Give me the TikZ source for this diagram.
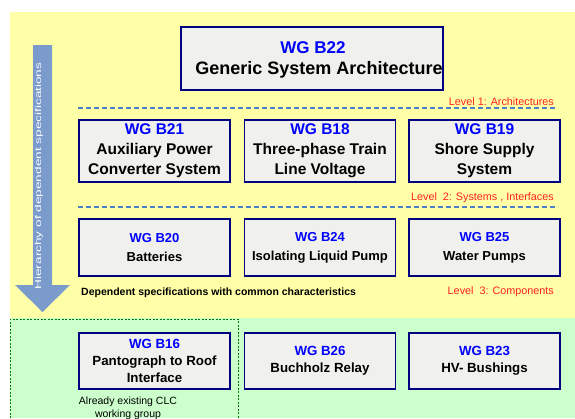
\documentclass[tikz,border=0pt]{standalone}
\usepackage{fontspec}
\setmainfont{Liberation Sans}
\usepackage{graphicx}
\definecolor{bgyellow}{HTML}{FFFFA8}
\definecolor{bggreen}{HTML}{CCFFCC}
\definecolor{boxgray}{HTML}{F0F0EC}
\definecolor{navy}{HTML}{000080}
\definecolor{wgblue}{HTML}{0000FF}
\definecolor{lvlred}{HTML}{FF2020}
\definecolor{dashblue}{HTML}{4F7FC8}
\definecolor{arrowblue}{HTML}{7B9BCC}
\definecolor{dashgreen}{HTML}{008000}
\newcommand{\wgt}[1]{\textcolor{wgblue}{#1}}
\begin{document}
\begin{tikzpicture}[x=1pt,y=-1pt,
  wgbox/.style={draw=navy, line width=1.6pt, fill=boxgray, inner sep=0pt, align=center},
  rowtwo/.style={wgbox, minimum width=151pt, minimum height=62pt, font=\bfseries\fontsize{15.5}{20}\selectfont},
  rowthree/.style={wgbox, minimum width=151pt, minimum height=57pt, font=\bfseries\fontsize{13}{19}\selectfont},
  rowfour/.style={wgbox, minimum width=151pt, minimum height=56pt, font=\bfseries\fontsize{13.3}{17}\selectfont},
  lvl/.style={text=lvlred, font=\fontsize{10.8}{12}\selectfont, inner sep=0pt, anchor=east},
  lvlline/.style={draw=dashblue, line width=1.2pt, dash pattern=on 5pt off 3pt}]
\useasboundingbox (0,0) rectangle (575,418);
\clip (0,0) rectangle (575,418);
% backgrounds
\fill[bgyellow] (10,12) rectangle (575,318);
\fill[bggreen] (10,318) rectangle (575,418);
\draw[dashgreen, line width=0.8pt, dash pattern=on 2pt off 1.5pt] (10,418) -- (10,319) -- (238,319) -- (238,418);
% arrow
\fill[arrowblue] (33,45) -- (52,45) -- (52,285) -- (70,285) -- (42.5,312) -- (15,285) -- (33,285) -- cycle;
\node[rotate=90, text=white, inner sep=0pt, font=\fontsize{8.5}{10}\selectfont] (arrowtext) at (39,176) {\scalebox{1.6}[1]{Hierarchy of dependent specifications}};
% level 1
\node[wgbox, minimum width=262pt, minimum height=63pt] (b22) at (312,58.5) {};
\node[text=wgblue, font=\bfseries\fontsize{17}{20}\selectfont, inner sep=0pt] (b22title) at (313,48) {WG B22};
\node[font=\bfseries\fontsize{18}{20}\selectfont, inner sep=0pt] (b22body) at (319,70) {Generic System Architecture};
\coordinate (l1a) at (78,108);
\coordinate (l1b) at (558,108);
\draw[lvlline] (l1a) -- (l1b);
\node[lvl] (lvl1) at (554,102) {Level 1: Architectures};
% level 2
\node[rowtwo] (b21) at (154.5,151) {\wgt{WG B21}\\Auxiliary Power\\Converter System};
\node[rowtwo] (b18) at (320,151) {\wgt{WG B18}\\Three-phase Train\\Line Voltage};
\node[rowtwo] (b19) at (484.5,151) {\wgt{WG B19}\\Shore Supply\\System};
\coordinate (l2a) at (78,207);
\coordinate (l2b) at (558,207);
\draw[lvlline] (l2a) -- (l2b);
\node[lvl] (lvl2) at (554,198) {Level\ \ 2: Systems , Interfaces};
% level 3
\node[rowthree] (b20) at (154.5,247.5) {\wgt{WG B20}\\Batteries};
\node[rowthree] (b24) at (320,247.5) {\wgt{WG B24}\\Isolating Liquid Pump};
\node[rowthree] (b25) at (484.5,247.5) {\wgt{WG B25}\\Water Pumps};
\node[lvl] (lvl3) at (554,292) {Level\ \ 3: Components};
\node[anchor=west, inner sep=0pt, font=\bfseries\fontsize{10.5}{12}\selectfont] (dep) at (81,293) {Dependent specifications with common characteristics};
% existing
\node[rowfour] (b16) at (154.5,361) {\wgt{WG B16}\\Pantograph to Roof\\Interface};
\node[rowfour] (b26) at (320,361) {\wgt{WG B26}\\Buchholz Relay};
\node[rowfour] (b23) at (484.5,361) {\wgt{WG B23}\\HV- Bushings};
\node[anchor=north, align=center, inner sep=0pt, font=\fontsize{10.5}{13}\selectfont] (clc) at (128,397) {Already existing CLC\\working group};
\end{tikzpicture}
\end{document}
